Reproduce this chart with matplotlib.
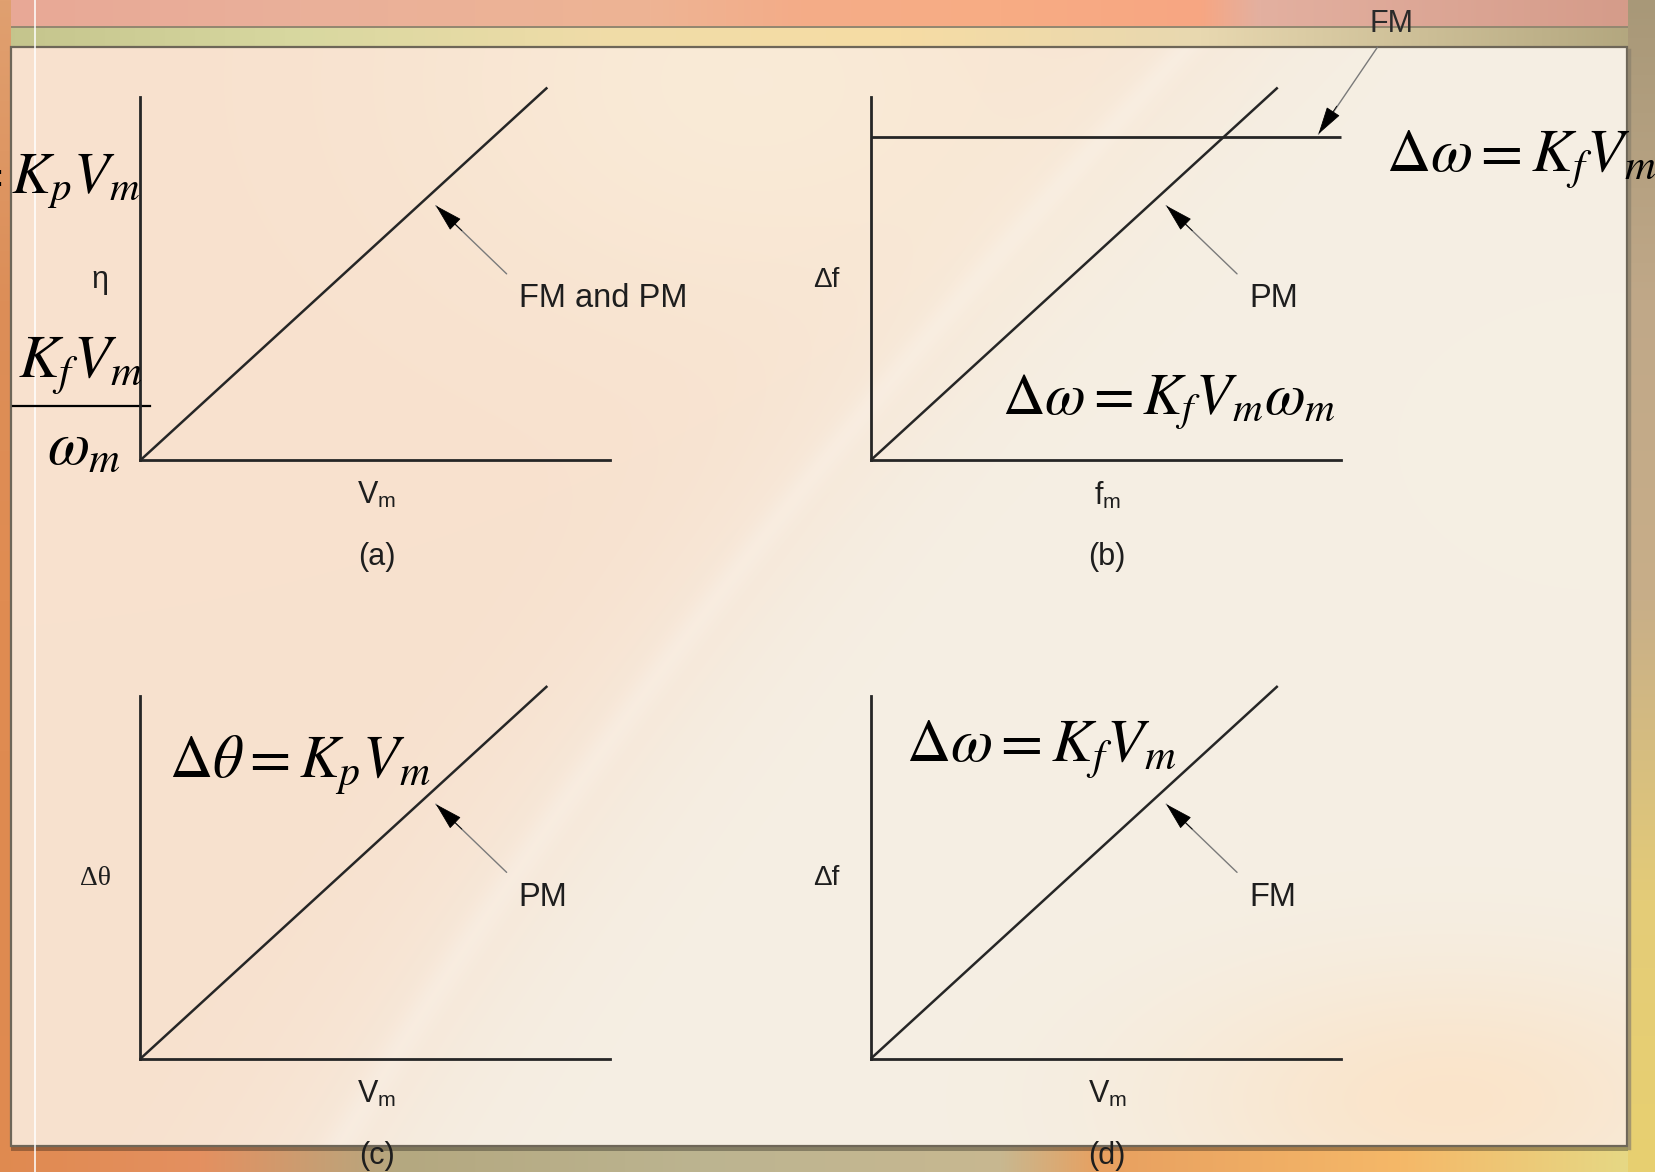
import numpy as np
import matplotlib
matplotlib.use("Agg")
import matplotlib.pyplot as plt
from matplotlib.patches import Rectangle
from matplotlib.lines import Line2D

plt.rcParams['font.family'] = ['Liberation Sans', 'DejaVu Sans']
plt.rcParams['mathtext.fontset'] = 'stix'

# deviation vs. modulating signal, four cases
ramp_x = [0, 10]
ramp_y = [0, 10]
flat_x = [0, 11.55]
flat_y = [8.67, 8.67]          # FM deviation does not depend on f_m

panel_tags = ['(a)', '(b)', '(c)', '(d)']
x_names = ['V$_\\mathregular{m}$', 'f$_\\mathregular{m}$', 'V$_\\mathregular{m}$', 'V$_\\mathregular{m}$']
y_names = ['', '\u0394f', '\u0394\u03b8', '\u0394f']
curve_names = ['FM and PM', 'PM', 'PM', 'FM']

W, H = 1655, 1172
XMAX, YMAX = 11.55, 9.74
LINE = '#262626'


def hexrgb(h):
    h = h.lstrip('#')
    return np.array([int(h[i:i + 2], 16) for i in (0, 2, 4)]) / 255.0


def xgrad(xs, cols, n):
    cols = np.array([hexrgb(c) for c in cols])
    return np.stack([np.interp(np.arange(n), xs, cols[:, k]) for k in range(3)], axis=-1)


# slide background
yy, xx = np.mgrid[0:H, 0:W].astype(float)
img = np.zeros((H, W, 3))

warm = hexrgb('#F8E1CE')
cream = hexrgb('#F5EFE4')
edge_x = 1230 - 0.95 * yy + 0.00015 * yy ** 2
d = xx - edge_x
t = 0.5 * (1 + np.tanh(d / 140.0))
inner = warm * (1 - t[..., None]) + cream * t[..., None]
top_glow = np.exp(-((xx - 750) ** 2 / 350 ** 2 + (yy - 80) ** 2 / 250 ** 2))
inner = inner * (1 - 0.6 * top_glow[..., None]) + hexrgb('#FBF1DD') * 0.6 * top_glow[..., None]
blob = np.exp(-((xx - 1450) ** 2 / 280 ** 2 + (yy - 1100) ** 2 / 130 ** 2))
inner = inner * (1 - 0.8 * blob[..., None]) + hexrgb('#FCE2C4') * 0.8 * blob[..., None]
streak = np.exp(-(d / 18.0) ** 2)
inner = inner * (1 - 0.18 * streak[..., None]) + 0.18 * streak[..., None]
img[:] = inner

top = xgrad([0, 300, 650, 800, 1000, 1200, 1260, 1655],
            ['#E8A896', '#EAB09A', '#EEB494', '#F4AC88', '#F8AC84', '#F7A682', '#E3B0A0', '#D49A88'], W)
olive = xgrad([0, 300, 600, 900, 1200, 1655],
              ['#C4C48C', '#D8D8A0', '#F0DCA8', '#F6DCA4', '#E8D8B0', '#B0A47C'], W)
bottom = xgrad([0, 200, 400, 700, 1000, 1100, 1400, 1655],
               ['#E08A50', '#E49060', '#B4A880', '#BCB490', '#C8B890', '#E8A060', '#F5B868', '#E4DC88'], W)
right = xgrad([0, 300, 600, 900, 1172], ['#A89878', '#C0A888', '#C8AE88', '#E4CC78', '#E8D070'], H)
left = xgrad([0, 300, 600, 900, 1172], ['#E0A070', '#DC8E58', '#E08C52', '#DE8A50', '#E08A50'], H)

img[:26] = top
img[26:28] = hexrgb('#948870')
img[28:46] = olive
img[46:48] = hexrgb('#7E7564')
img[1147:] = bottom
img[:, 1628:] = right[:, None, :]
img[:, :11] = left[:, None, :]
img[1145:1151, 11:1628] *= 0.7

fig = plt.figure(figsize=(W / 100, H / 100), dpi=100)
bg = fig.add_axes([0, 0, 1, 1])
bg.imshow(np.clip(img, 0, 1), extent=(0, W, H, 0), aspect='auto', interpolation='bilinear')
bg.set_xlim(0, W)
bg.set_ylim(H, 0)
bg.axis('off')
bg.add_patch(Rectangle((11, 47), 1616, 1099, fill=False, ec='#6E6658', lw=1.6))
bg.add_line(Line2D([1629, 1629], [50, 1148], color='#8A806C', lw=2.5, alpha=0.7))
bg.axvline(35, color='white', lw=1.3, alpha=0.85)

# four small diagrams, origins in pixels
origins = [(140.4, 460.2), (870.8, 460.2), (140.4, 1058.7), (870.8, 1058.7)]
axes = []
for i, (ox, oy) in enumerate(origins):
    ax = fig.add_axes([ox / W, 1 - oy / H, 470 / W, 363 / H])
    ax.patch.set_alpha(0)
    ax.set_xlim(0, XMAX)
    ax.set_ylim(0, YMAX)
    for s in ('top', 'right'):
        ax.spines[s].set_visible(False)
    for s in ('left', 'bottom'):
        ax.spines[s].set_linewidth(2.0)
        ax.spines[s].set_color(LINE)
    ax.set_xticks([])
    ax.set_yticks([])

    ax.plot(ramp_x, ramp_y, color=LINE, lw=1.8, clip_on=False, solid_capstyle='butt')

    ax.annotate('', xy=(7.26, 6.83), xytext=(9.0, 5.0),
                arrowprops=dict(arrowstyle='-', color='#7A7A7A', lw=1.0, shrinkA=0, shrinkB=0))
    ax.annotate('', xy=(7.26, 6.83), xytext=(7.9, 6.16),
                arrowprops=dict(arrowstyle='-|>,head_length=1.8,head_width=0.5',
                                fc='black', ec='black', lw=0.6, shrinkA=0, shrinkB=0))
    ax.text(9.3, 4.33, curve_names[i], fontsize=23.5, color='#1E1E1E', va='center', ha='left')

    ax.text(5.81, -0.96, x_names[i], fontsize=22, color='#1E1E1E', ha='center', va='center', clip_on=False)
    ax.text(5.81, -2.6, panel_tags[i], fontsize=22, color='#1E1E1E', ha='center', va='center', clip_on=False)
    if y_names[i]:
        fam = ['Liberation Serif', 'DejaVu Serif'] if i == 2 else ['Liberation Sans', 'DejaVu Sans']
        ax.text(-1.1, 4.84, y_names[i], fontsize=20, color='#1E1E1E', ha='center', va='center',
                family=fam, clip_on=False)
    axes.append(ax)

# FM line in (b) and its pointer
axb = axes[1]
axb.plot(flat_x, flat_y, color=LINE, lw=2.0, clip_on=False, solid_capstyle='butt')
axb.annotate('', xy=(11.0, 8.75), xytext=(12.45, 11.08),
             arrowprops=dict(arrowstyle='-', color='#7A7A7A', lw=1.0, shrinkA=0, shrinkB=0))
axb.annotate('', xy=(11.0, 8.75), xytext=(11.45, 9.5),
             arrowprops=dict(arrowstyle='-|>,head_length=1.8,head_width=0.5',
                             fc='black', ec='black', lw=0.6, shrinkA=0, shrinkB=0))
axb.text(12.8, 11.7, 'FM', fontsize=22, color='#2A2A2A', ha='center', va='center', clip_on=False)

# overlaid equations
eq = dict(fontsize=44, color='black', va='baseline', ha='left')
fig.text(1386 / W, 1 - 172 / H, r'$\Delta\omega = K_f V_m$', **eq)
fig.text(1002 / W, 1 - 414 / H, r'$\Delta\omega = K_f V_m \omega_m$', fontsize=42.5,
         color='black', va='baseline', ha='left')
fig.text(169 / W, 1 - 778 / H, r'$\Delta\theta = K_p V_m$', fontsize=43,
         color='black', va='baseline', ha='left')
fig.text(906 / W, 1 - 762 / H, r'$\Delta\omega = K_f V_m$', **eq)
fig.text(140 / W, 1 - 193 / H, r'$= K_p V_m$', fontsize=42, color='black', va='baseline', ha='right')
fig.text(18 / W, 1 - 378 / H, r'$K_f V_m$', fontsize=44, color='black', va='baseline', ha='left')
fig.text(47 / W, 1 - 464 / H, r'$\omega_m$', fontsize=44, color='black', va='baseline', ha='left')
bg.add_line(Line2D([13, 150], [406, 406], color='black', lw=1.6))
fig.text(100 / W, 1 - 280 / H, '\u03b7', fontsize=22, color='#1E1E1E', ha='center', va='center')

fig.savefig('out.png', dpi=100)
